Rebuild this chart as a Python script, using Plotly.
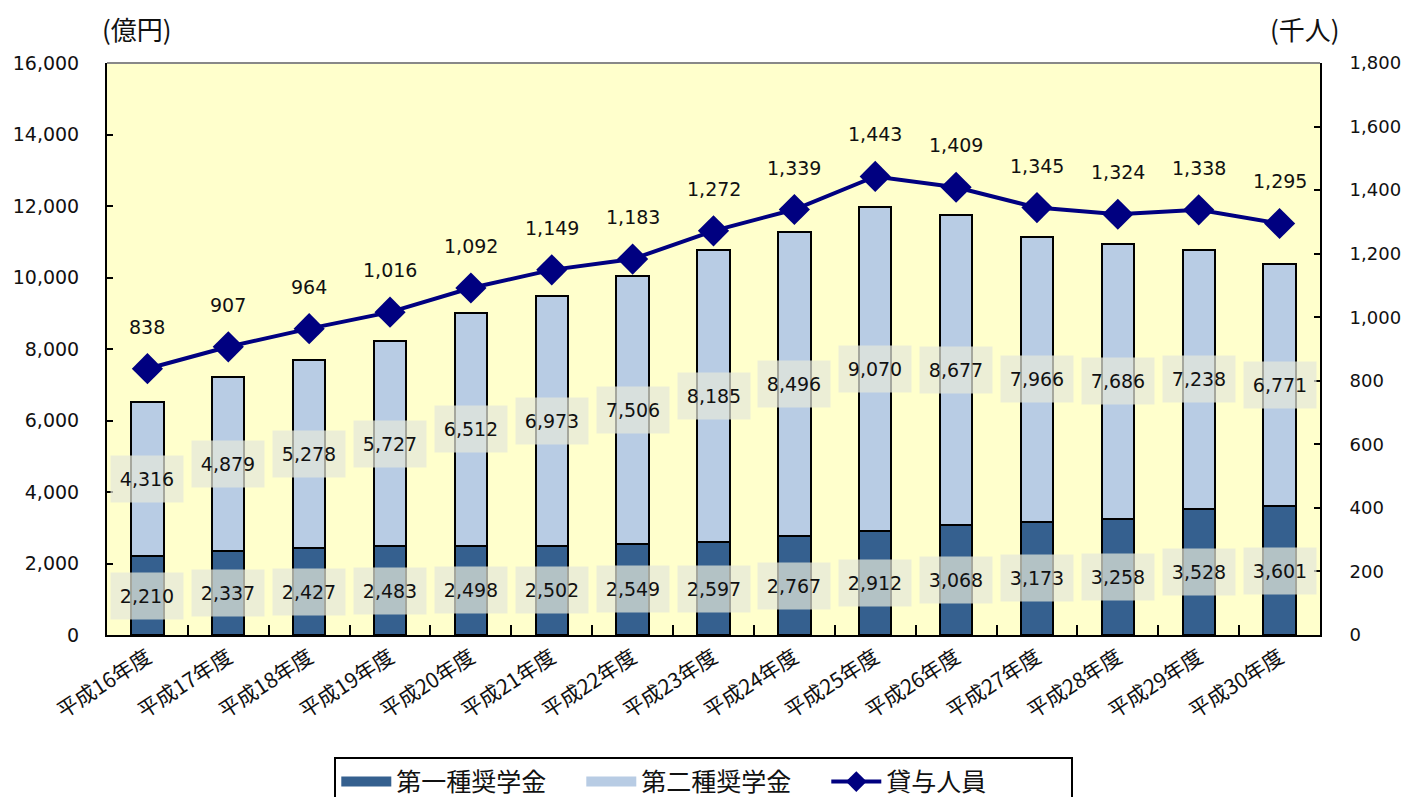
import plotly.graph_objects as go

categories = ["平成16年度", "平成17年度", "平成18年度", "平成19年度", "平成20年度",
              "平成21年度", "平成22年度", "平成23年度", "平成24年度", "平成25年度",
              "平成26年度", "平成27年度", "平成28年度", "平成29年度", "平成30年度"]
type1 = [2210, 2337, 2427, 2483, 2498, 2502, 2549, 2597, 2767, 2912, 3068, 3173, 3258, 3528, 3601]
type2 = [4316, 4879, 5278, 5727, 6512, 6973, 7506, 8185, 8496, 9070, 8677, 7966, 7686, 7238, 6771]
persons = [838, 907, 964, 1016, 1092, 1149, 1183, 1272, 1339, 1443, 1409, 1345, 1324, 1338, 1295]

left_ticks = [0, 2000, 4000, 6000, 8000, 10000, 12000, 14000, 16000]
right_ticks = [0, 200, 400, 600, 800, 1000, 1200, 1400, 1600, 1800]

FONT = "Verdana, DejaVu Sans, Noto Sans CJK JP"
CJK = "Noto Sans CJK JP, DejaVu Sans"
DARK = "#35608f"
LIGHT = "#b8cce4"
NAVY = "#000080"

fig = go.Figure()
fig.add_trace(go.Bar(x=categories, y=type1, name="第一種奨学金", showlegend=False,
                     marker=dict(color=DARK, line=dict(color="black", width=2))))
fig.add_trace(go.Bar(x=categories, y=type2, name="第二種奨学金", showlegend=False,
                     marker=dict(color=LIGHT, line=dict(color="black", width=2))))
fig.add_trace(go.Scatter(x=categories, y=persons, name="貸与人員", yaxis="y2",
                         mode="lines+markers", showlegend=False,
                         line=dict(color=NAVY, width=4),
                         marker=dict(symbol="diamond", size=24, color=NAVY)))

# legend-only entries (no data points)
fig.add_trace(go.Scatter(x=[categories[0]], y=[None], name="第一種奨学金", mode="lines",
                         line=dict(color=DARK, width=17)))
fig.add_trace(go.Scatter(x=[categories[0]], y=[None], name="第二種奨学金", mode="lines",
                         line=dict(color=LIGHT, width=17)))
fig.add_trace(go.Scatter(x=[categories[0]], y=[None], name="貸与人員", mode="lines+markers",
                         line=dict(color=NAVY, width=4),
                         marker=dict(symbol="diamond", size=16, color=NAVY)))

annotations = []
box = "rgba(228,232,218,0.72)"
for c, a, b in zip(categories, type1, type2):
    annotations.append(dict(x=c, y=a / 2, xref="x", yref="y", text=f"{a:,}", showarrow=False,
                            bgcolor=box, width=70, height=44,
                            font=dict(family=FONT, size=19, color="#111")))
    annotations.append(dict(x=c, y=a + b / 2, xref="x", yref="y", text=f"{b:,}", showarrow=False,
                            bgcolor=box, width=70, height=44,
                            font=dict(family=FONT, size=19, color="#111")))
for c, p in zip(categories, persons):
    annotations.append(dict(x=c, y=p, xref="x", yref="y2", text=f"{p:,}", showarrow=False,
                            yshift=42, font=dict(family=FONT, size=19, color="#111")))

annotations.append(dict(x=0.025, y=1.061, xref="paper", yref="paper", text="(億円)",
                        xanchor="center", yanchor="middle",
                        showarrow=False, font=dict(family=CJK, size=26, color="#111")))
annotations.append(dict(x=0.988, y=1.061, xref="paper", yref="paper", text="(千人)",
                        xanchor="center", yanchor="middle",
                        showarrow=False, font=dict(family=CJK, size=26, color="#111")))

# page body has an 8px margin, so the figure is sized and offset to compensate
fig.update_layout(
    width=1393, height=789,
    margin=dict(l=99, r=81, t=55, b=162, autoexpand=False),
    paper_bgcolor="white",
    plot_bgcolor="#ffffcc",
    barmode="stack",
    bargap=0.6,
    showlegend=True,
    legend=dict(orientation="h", x=0.492, xanchor="center", y=-0.213, yanchor="top",
                traceorder="normal",
                bgcolor="white", bordercolor="black", borderwidth=2,
                font=dict(family=CJK, size=25, color="#111"),
                itemwidth=50, entrywidth=180, entrywidthmode="pixels"),
    annotations=annotations,
    xaxis=dict(type="category", categoryorder="array", categoryarray=categories,
               range=[-0.5, len(categories) - 0.5],
               showline=True, linecolor="black", linewidth=2,
               ticks="inside", tickson="boundaries", ticklen=10, tickwidth=2, tickcolor="black",
               tickangle=-33, tickfont=dict(family=CJK, size=21, color="#111"),
               automargin=False, showgrid=False, zeroline=False),
    yaxis=dict(range=[0, 16000], tickvals=left_ticks, tickformat=",d",
               showline=True, linecolor="black", linewidth=2,
               ticks="inside", ticklen=6, tickwidth=2, tickcolor="black",
               ticklabelstandoff=22, automargin=False,
               tickfont=dict(family=FONT, size=19, color="#111"),
               showgrid=False, zeroline=False),
    yaxis2=dict(range=[0, 1800], tickvals=right_ticks, tickformat=",d", overlaying="y",
                side="right", showline=True, linecolor="black", linewidth=2,
                ticks="inside", ticklen=6, tickwidth=2, tickcolor="black",
                ticklabelstandoff=24, automargin=False,
                tickfont=dict(family=FONT, size=18, color="#111"),
                showgrid=False, zeroline=False),
    shapes=[dict(type="line", xref="paper", yref="paper", x0=0, x1=1, y0=1, y1=1,
                 line=dict(color="#888888", width=2))],
)

fig.write_html("out.html")
